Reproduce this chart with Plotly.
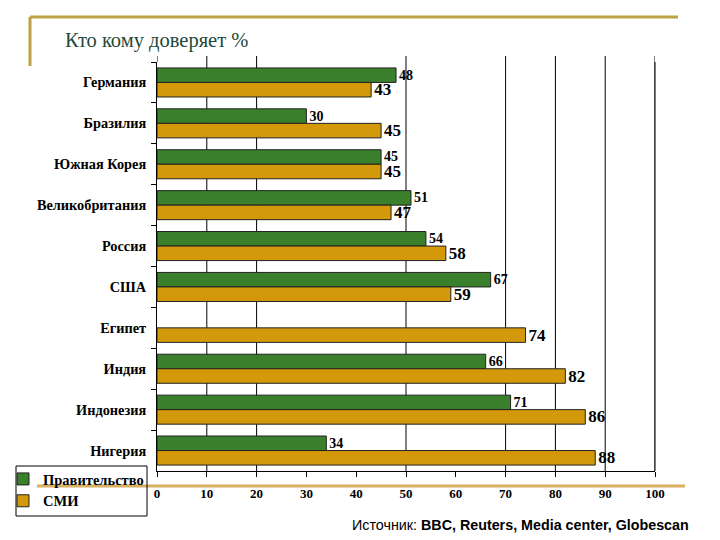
import plotly.graph_objects as go

countries = ["Германия", "Бразилия", "Южная Корея", "Великобритания", "Россия",
             "США", "Египет", "Индия", "Индонезия", "Нигерия"]
government = [48, 30, 45, 51, 54, 67, None, 66, 71, 34]
media = [43, 45, 45, 47, 58, 59, 74, 82, 86, 88]
x_ticks = [0, 10, 20, 30, 40, 50, 60, 70, 80, 90, 100]
grid_values = [10, 20, 50, 70, 80, 90, 100]
top_tick_values = [0, 10, 20, 50, 70, 80, 90, 100]

GREEN = "#3a7f2c"
GOLD = "#d4990a"
SERIF = "Liberation Serif, Times New Roman, serif"

# page offset (browser default body margin)
OFF = 8
# plot area in reference-screen pixels
L, R, T, B = 157, 655, 62, 471
W, H = 720 - OFF, 540 - OFF

def px(x):
    return (x - L) / (R - L)

def py(y):
    return (B - y) / (B - T)

fig = go.Figure()
fig.add_trace(go.Bar(
    y=countries, x=government, orientation="h", name="Правительство",
    marker=dict(color=GREEN, line=dict(color="#222", width=1)),
    texttemplate="%{x}", textposition="outside", cliponaxis=False, constraintext="none",
    textfont=dict(family=SERIF, size=14, color="black", weight="bold"),
))
fig.add_trace(go.Bar(
    y=countries, x=media, orientation="h", name="СМИ",
    marker=dict(color=GOLD, line=dict(color="#222", width=1)),
    texttemplate="%{x}", textposition="outside", cliponaxis=False, constraintext="none",
    textfont=dict(family=SERIF, size=17, color="black", weight="bold"),
))

shapes = []
for v in grid_values:
    shapes.append(dict(type="line", xref="x", yref="paper", x0=v, x1=v, y0=0, y1=1,
                       line=dict(color="black", width=1), layer="below"))
for v in top_tick_values:
    shapes.append(dict(type="line", xref="x", yref="paper", x0=v, x1=v, y0=1, y1=py(T - 6),
                       line=dict(color="black", width=1)))
# decorative slide lines
gold_line = "#bba245"
shapes.append(dict(type="line", xref="paper", yref="paper", x0=px(30), x1=px(678),
                   y0=py(17), y1=py(17), line=dict(color=gold_line, width=3)))
shapes.append(dict(type="line", xref="paper", yref="paper", x0=px(30), x1=px(30),
                   y0=py(17), y1=py(66), line=dict(color=gold_line, width=3)))
shapes.append(dict(type="line", xref="paper", yref="paper", x0=px(37), x1=px(685),
                   y0=py(486), y1=py(486), line=dict(color="#d8b060", width=3)))
# legend box
shapes.append(dict(type="rect", xref="paper", yref="paper", x0=px(16), x1=px(147),
                   y0=py(516), y1=py(466), line=dict(color="black", width=1)))

fig.update_layout(
    width=W, height=H,
    margin=dict(l=L - OFF, r=720 - R, t=T - OFF, b=540 - B, autoexpand=False),
    paper_bgcolor="white", plot_bgcolor="white",
    barmode="group", bargap=0.29, bargroupgap=0,
    showlegend=True,
    legend=dict(
        x=px(3), y=py(463), xanchor="left", yanchor="top",
        borderwidth=0, bgcolor="rgba(255,255,255,0)",
        font=dict(family=SERIF, size=14.5, color="black", weight="bold"),
        itemwidth=30, tracegroupgap=0,
    ),
    xaxis=dict(
        range=[0, 100], tickvals=x_ticks, showgrid=False, zeroline=False,
        showline=True, linecolor="black", linewidth=1,
        ticks="outside", ticklen=5, tickcolor="black",
        ticklabelstandoff=5,
        tickfont=dict(family=SERIF, size=13, color="black", weight="bold"),
        mirror=False,
    ),
    yaxis=dict(
        autorange="reversed", showgrid=False, zeroline=False,
        showline=True, linecolor="black", linewidth=1,
        ticks="outside", ticklen=5, tickcolor="black", tickson="boundaries",
        ticklabelstandoff=7,
        tickfont=dict(family=SERIF, size=14.3, color="black", weight="bold"),
    ),
    shapes=shapes,
    annotations=[
        dict(text="Кто кому доверяет %", xref="paper", yref="paper",
             x=px(63), y=py(40), xanchor="left", yanchor="middle", showarrow=False,
             font=dict(family=SERIF, size=20.5, color="#1d4a3a")),
        dict(text="Источник: <b>BBC, Reuters, Media center, Globescan</b>",
             xref="paper", yref="paper", x=px(691), y=py(525),
             xanchor="right", yanchor="middle", showarrow=False,
             font=dict(family="Liberation Sans, Arial, sans-serif", size=14.3, color="black")),
    ],
)
# right frame line
fig.add_shape(type="line", xref="paper", yref="paper", x0=1, x1=1, y0=0, y1=1,
              line=dict(color="black", width=1))

fig.write_html("out.html")
